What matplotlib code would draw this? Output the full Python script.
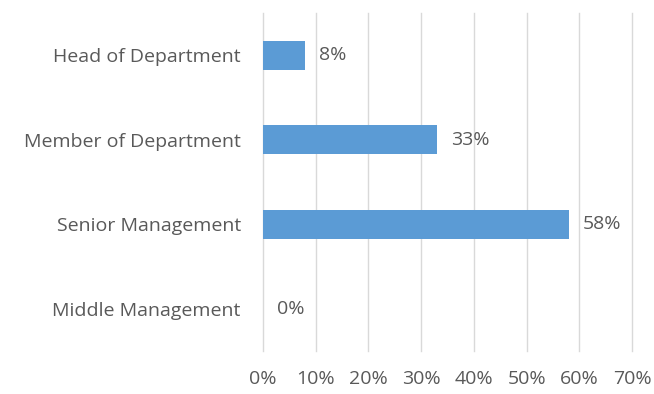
import matplotlib
matplotlib.use("Agg")
import matplotlib.pyplot as plt
from matplotlib.ticker import PercentFormatter

roles = ["Head of Department", "Member of Department", "Senior Management", "Middle Management"]
shares = [8, 33, 58, 0]

plt.rcParams["font.family"] = ["Open Sans", "DejaVu Sans"]
text_grey = "#595959"
fs = 14

fig = plt.figure(figsize=(6.54, 3.94), dpi=100)
ax = fig.add_axes([263 / 654, 1 - 351 / 394, (632 - 263) / 654, (351 - 13) / 394])

pos = list(range(len(roles)))
ax.barh(pos, shares, height=0.34, color="#5B9BD5", zorder=3)
for p, v in zip(pos, shares):
    ax.text(v + 2.6, p, f"{v}%", va="center", ha="left", fontsize=fs, color=text_grey)

ax.set_xlim(0, 70)
ax.set_ylim(len(roles) - 0.5, -0.5)
ax.set_xticks(range(0, 71, 10))
ax.xaxis.set_major_formatter(PercentFormatter(decimals=0))
ax.set_yticks(pos)
ax.set_yticklabels(roles)
ax.tick_params(axis="both", length=0, labelsize=fs, labelcolor=text_grey)
ax.tick_params(axis="x", pad=14)
ax.tick_params(axis="y", pad=16)
ax.grid(axis="x", color="#d9d9d9", linewidth=1, zorder=0)
for gl in ax.get_xgridlines():
    gl.set_clip_on(False)
for s in ax.spines.values():
    s.set_visible(False)

fig.savefig("out.png", dpi=100)
